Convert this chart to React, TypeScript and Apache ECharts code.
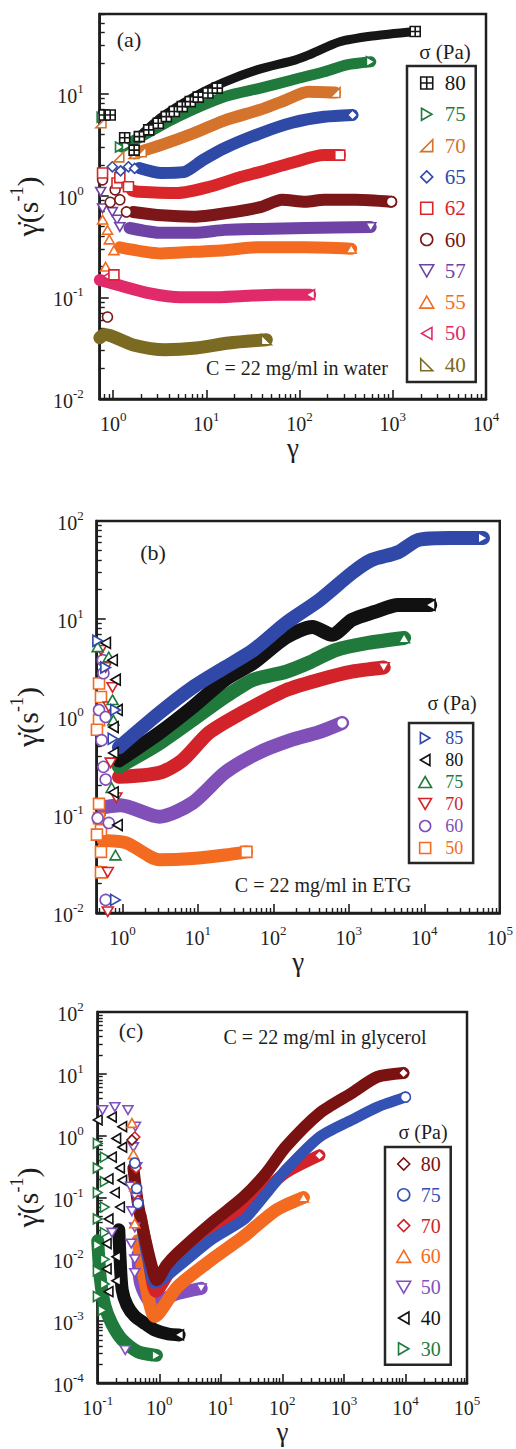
import React, { useEffect, useRef } from 'react';
import * as echarts from 'echarts';

type P = [number, number];
const FONT = "'Liberation Serif', 'Times New Roman', serif";
const INK = '#1e1e1e';

// ---------- Panel (a): C = 22 mg/ml in water ----------
const A_NAMES = ['80', '75', '70', '65', '62', '60', '57', '55', '50', '40'];
const A_COLORS = ['#161616', '#1f7a3c', '#d4732c', '#2f49a6', '#d9262b', '#7b1718', '#6f43a6', '#f26b21', '#e12a6a', '#7a6a22'];
const A80: P[] = [[1.9, 3.8], [3.3, 5.9], [7.3, 9.3], [15.8, 13.1], [35, 17.2], [91, 21.6], [124, 24], [270, 32.5], [600, 37], [1740, 41]];
const A80_PTS: P[] = [[0.8, 6.2], [0.93, 6.2], [1.33, 3.7], [1.68, 2.8], [1.91, 3.8], [2.41, 4.43], [3.05, 5.15], [3.72, 5.98], [4.53, 6.7], [5.52, 7.5], [6.72, 8.4], [8.18, 9.3], [10.4, 10.2], [13.1, 11.4]];
const A75: P[] = [[1.24, 3.0], [1.89, 3.7], [4.9, 5.95], [15.8, 9.4], [38, 11.4], [83, 13.7], [184, 16.5], [320, 19.3], [580, 20.7]];
const A75_PTS: P[] = [[0.75, 5.9], [1.18, 3.0], [1.4, 3.1]];
const A70: P[] = [[1.7, 2.6], [3.3, 3.15], [7.3, 4.1], [15.8, 5.5], [38, 7.0], [71, 8.7], [124, 10.5], [240, 10.3]];
const A70_PTS: P[] = [[0.74, 5.2], [1.15, 2.4], [1.68, 2.6], [2.0, 2.7]];
const A65: P[] = [[1.9, 1.87], [3.3, 1.67], [5.7, 1.7], [9.2, 2.24], [15.8, 2.94], [38, 4.1], [83, 5.2], [184, 5.95], [370, 6.2]];
const A65_PTS: P[] = [[0.98, 1.92], [1.2, 1.75], [1.46, 1.92], [1.7, 1.85]];
const A62: P[] = [[1.6, 1.12], [1.89, 1.09], [4.9, 1.06], [10.8, 1.22], [23.7, 1.53], [38, 1.71], [83, 2.1], [184, 2.5], [270, 2.5]];
const A62_PTS: P[] = [[0.77, 1.67], [1.1, 1.33], [1.18, 1.5], [1.46, 1.22], [1.02, 0.166]];
const A60: P[] = [[1.64, 0.69], [3.3, 0.64], [7.3, 0.62], [15.8, 0.67], [38, 0.77], [65, 0.91], [115, 0.87], [184, 0.91], [400, 0.91], [965, 0.87]];
const A60_PTS: P[] = [[0.77, 1.43], [0.93, 0.86], [1.05, 1.14], [1.18, 0.91], [1.39, 0.69], [0.87, 0.064]];
const A57: P[] = [[1.5, 0.48], [3.3, 0.43], [7.3, 0.43], [15.8, 0.46], [38, 0.47], [115, 0.48], [580, 0.49]];
const A57_PTS: P[] = [[0.735, 1.09], [0.77, 0.75], [0.98, 0.69], [1.1, 0.58], [1.18, 0.49]];
const A55: P[] = [[1.18, 0.31], [3.3, 0.27], [7.3, 0.28], [15.8, 0.29], [35, 0.31], [115, 0.31], [358, 0.30]];
const A55_PTS: P[] = [[0.77, 0.58], [0.87, 0.46], [0.91, 0.37], [1.02, 0.29], [0.83, 0.2]];
const A50: P[] = [[0.72, 0.148], [1.1, 0.133], [2.4, 0.11], [5.3, 0.1], [11.6, 0.1], [25, 0.103], [56, 0.106], [130, 0.106]];
const A50_PTS: P[] = [[0.87, 0.16]];
const A40: P[] = [[0.72, 0.04], [0.81, 0.043], [1.64, 0.034], [3.6, 0.0305], [7.8, 0.0317], [17.4, 0.0355], [44, 0.0382]];
const A40_PTS: P[] = [];

// ---------- Panel (b): C = 22 mg/ml in ETG ----------
const B_NAMES = ['85', '80', '75', '70', '60', '50'];
const B_COLORS = ['#3048a8', '#111111', '#1f7a3c', '#d2232a', '#8050b8', '#f26b21'];
const B85: P[] = [[0.9, 0.49], [3.1, 1.1], [8.5, 2.0], [22.8, 3.2], [54, 4.8], [147, 9.1], [408, 15.6], [1100, 29.5], [2000, 40], [4500, 48], [8300, 64], [22000, 67], [60000, 67]];
const B85_PTS: P[] = [[0.47, 6.0], [0.6, 3.2], [0.81, 1.18], [0.75, 0.6], [0.81, 0.0136]];
const B80: P[] = [[0.9, 0.36], [3.1, 0.69], [8.5, 1.26], [22.8, 2.4], [54, 3.55], [147, 6.5], [330, 8.3], [600, 6.9], [1100, 9.8], [2200, 11.8], [4500, 13.9], [12000, 13.9]];
const B80_PTS: P[] = [[0.6, 5.7], [0.74, 3.8], [0.81, 2.4], [0.86, 1.18], [0.76, 0.79], [0.76, 0.43], [0.76, 0.17], [0.86, 0.079]];
const B75: P[] = [[0.9, 0.31], [3.1, 0.54], [8.5, 0.93], [22.8, 1.6], [54, 2.4], [147, 2.9], [300, 3.6], [660, 4.8], [1800, 5.7], [5400, 6.4]];
const B75_PTS: P[] = [[0.47, 5.2], [0.66, 4.1], [0.74, 1.5], [0.76, 0.93], [0.72, 0.19], [0.81, 0.039]];
const B70: P[] = [[0.9, 0.245], [3.1, 0.27], [6.2, 0.36], [14, 0.69], [38, 1.1], [147, 1.88], [408, 2.4], [1100, 2.9], [2900, 3.2]];
const B70_PTS: P[] = [[0.52, 4.8], [0.6, 3.2], [0.74, 2.0], [0.66, 1.27], [0.7, 0.34], [0.83, 0.15], [0.64, 0.026], [0.64, 0.0103]];
const B60: P[] = [[0.56, 0.12], [0.94, 0.126], [3.1, 0.096], [8.5, 0.133], [22.8, 0.27], [63, 0.43], [170, 0.58], [400, 0.7], [815, 0.87]];
const B60_PTS: P[] = [[0.55, 3.8], [0.56, 2.8], [0.49, 1.18], [0.6, 1.0], [0.53, 0.58], [0.56, 0.31], [0.6, 0.23], [0.47, 0.093], [0.66, 0.083], [0.6, 0.0136]];
const B50: P[] = [[0.56, 0.055], [1.13, 0.052], [3.1, 0.035], [8.5, 0.036], [22.8, 0.039], [44, 0.042]];
const B50_PTS: P[] = [[0.49, 2.2], [0.52, 1.6], [0.49, 0.93], [0.46, 0.74], [0.49, 0.13], [0.49, 0.093], [0.52, 0.07], [0.46, 0.063], [0.52, 0.042], [0.52, 0.026]];

// ---------- Panel (c): C = 22 mg/ml in glycerol ----------
const C_NAMES = ['80', '75', '70', '60', '50', '40', '30'];
const C_COLORS = ['#7a1212', '#3352b4', '#d2232a', '#f26b21', '#8050c0', '#111111', '#1f7a3c'];
const C80: P[] = [[0.38, 0.3], [0.45, 0.08], [0.6, 0.02], [0.75, 0.008], [0.91, 0.0046], [1.3, 0.008], [1.98, 0.0126], [6.9, 0.038], [23, 0.1], [55, 0.25], [112, 0.65], [400, 2.3], [1350, 4.9], [3500, 8.9], [9300, 10.3]];
const C80_PTS: P[] = [[0.36, 0.85]];
const C75: P[] = [[0.5, 0.04], [0.65, 0.01], [0.85, 0.0041], [1.98, 0.0075], [6.9, 0.0205], [23, 0.043], [34, 0.065], [60, 0.13], [114, 0.28], [400, 0.95], [1350, 1.8], [3500, 2.9], [10000, 4.2]];
const C75_PTS: P[] = [[0.4, 0.36], [0.43, 0.14], [0.45, 0.08]];
const C70: P[] = [[0.5, 0.05], [0.65, 0.012], [0.88, 0.003], [1.98, 0.0097], [6.9, 0.026], [23, 0.07], [34, 0.091], [112, 0.25], [400, 0.48]];
const C70_PTS: P[] = [[0.4, 0.95], [0.42, 0.3], [0.45, 0.09]];
const C60: P[] = [[0.45, 0.02], [0.6, 0.004], [0.85, 0.0012], [1.98, 0.0036], [6.9, 0.0097], [23, 0.023], [78, 0.062], [220, 0.1]];
const C60_PTS: P[] = [[0.36, 1.6], [0.38, 0.5], [0.4, 0.15], [0.4, 0.038]];
const C50: P[] = [[0.45, 0.012], [0.5, 0.004], [0.76, 0.002], [1.98, 0.0028], [4.8, 0.0034]];
const C50_PTS: P[] = [[0.12, 2.6], [0.19, 2.9], [0.31, 2.6], [0.41, 1.4], [0.38, 0.65], [0.43, 0.31], [0.34, 0.15], [0.42, 0.1], [0.36, 0.06], [0.4, 0.033], [0.35, 0.018], [0.4, 0.01], [0.4, 0.006], [0.17, 0.027], [0.28, 0.00034]];
const C40: P[] = [[0.22, 0.03], [0.23, 0.011], [0.25, 0.0032], [0.3, 0.0018], [0.4, 0.0012], [0.6, 0.0009], [0.85, 0.00072], [1.4, 0.00062], [2.1, 0.0006]];
const C40_PTS: P[] = [[0.1, 1.8], [0.17, 2.0], [0.25, 1.4], [0.2, 0.9], [0.25, 0.65], [0.17, 0.45], [0.23, 0.3], [0.15, 0.2], [0.25, 0.19], [0.19, 0.12], [0.23, 0.07], [0.15, 0.045], [0.14, 0.018], [0.2, 0.011], [0.14, 0.007], [0.2, 0.0045], [0.15, 0.003]];
const C30: P[] = [[0.1, 0.02], [0.11, 0.005], [0.13, 0.0018], [0.17, 0.0009], [0.25, 0.0005], [0.45, 0.00032], [0.9, 0.00028]];
const C30_PTS: P[] = [[0.1, 0.75], [0.13, 0.45], [0.1, 0.3], [0.13, 0.18], [0.1, 0.12], [0.13, 0.07], [0.1, 0.045], [0.13, 0.027], [0.1, 0.017], [0.13, 0.01], [0.1, 0.0065], [0.13, 0.004], [0.1, 0.0025], [0.12, 0.0015]];

// ---------- Axes ----------
const X_RANGES: P[] = [[0.718, 1e4], [0.457, 1e5], [0.1, 1e5]];
const Y_RANGES: P[] = [[0.01, 61], [0.01, 100], [1e-4, 100]];
const MINOR_MULT = [2, 3, 4, 5, 6, 7, 8, 9];

const SYM = {
  up: 'path://M5,0L10,8.66L0,8.66Z',
  down: 'path://M0,0L10,0L5,8.66Z',
  right: 'path://M0,0L8.66,5L0,10Z',
  left: 'path://M8.66,0L8.66,10L0,5Z',
  sqx: 'path://M0,0L10,0L10,10L0,10Z M5,0L5,10 M0,5L10,5',
  cornerBR: 'path://M10,0L10,10L0,10Z',
  cornerBL: 'path://M0,0L10,10L0,10Z',
  circle: 'circle',
  rect: 'path://M0,0L10,0L10,10L0,10Z',
  diamond: 'path://M5,0L10,5L5,10L0,5Z',
};

const PANELS = [
  {
    key: 'a', names: A_NAMES, colors: A_COLORS,
    symbols: [SYM.sqx, SYM.right, SYM.cornerBR, SYM.diamond, SYM.rect, SYM.circle, SYM.down, SYM.up, SYM.left, SYM.cornerBL],
    bands: [A80, A75, A70, A65, A62, A60, A57, A55, A50, A40],
    pts: [A80_PTS, A75_PTS, A70_PTS, A65_PTS, A62_PTS, A60_PTS, A57_PTS, A55_PTS, A50_PTS, A40_PTS],
    widths: [9, 11, 12, 12, 12, 12, 12, 12, 12, 13], symSize: 10,
  },
  {
    key: 'b', names: B_NAMES, colors: B_COLORS,
    symbols: [SYM.right, SYM.left, SYM.up, SYM.down, SYM.circle, SYM.rect],
    bands: [B85, B80, B75, B70, B60, B50],
    pts: [B85_PTS, B80_PTS, B75_PTS, B70_PTS, B60_PTS, B50_PTS],
    widths: [14, 14, 14, 14, 14, 13], symSize: 11,
  },
  {
    key: 'c', names: C_NAMES, colors: C_COLORS,
    symbols: [SYM.diamond, SYM.circle, SYM.diamond, SYM.up, SYM.down, SYM.left, SYM.right],
    bands: [C80, C75, C70, C60, C50, C40, C30],
    pts: [C80_PTS, C75_PTS, C70_PTS, C60_PTS, C50_PTS, C40_PTS, C30_PTS],
    widths: [12, 11, 12, 13, 13, 13, 13], symSize: 10,
  },
];

const GRIDS = [
  { left: 82, top: 14, width: 404, height: 385 },
  { left: 91, top: 521, width: 409, height: 392 },
  { left: 92, top: 1012, width: 375, height: 371 },
];
const X_NAME_GAP = [31, 30, 34];
const Y_NAME_GAP = [42, 48, 49];
const Y_LABEL_MARGIN = [16, 13, 14];
const LEGENDS = [
  { left: 407, top: 66, padding: [6.5, 10, 6.8, 12], itemWidth: 26, itemHeight: 12, itemGap: 10.3, fontSize: 21 },
  { left: 409, top: 723, padding: [6, 10, 6, 9], itemWidth: 30, itemHeight: 11, itemGap: 4, fontSize: 18 },
  { left: 385, top: 1147, padding: [7, 10, 6, 11], itemWidth: 24, itemHeight: 12, itemGap: 10.8, fontSize: 20 },
];
const TEXTS = [
  { text: '(a)', x: 129, y: 39, size: 22 },
  { text: 'C = 22 mg/ml in water', x: 297, y: 368, size: 20 },
  { text: 'σ (Pa)', x: 445, y: 52, size: 21 },
  { text: '(b)', x: 153, y: 552, size: 22 },
  { text: 'C = 22 mg/ml in ETG', x: 323, y: 885, size: 20 },
  { text: 'σ (Pa)', x: 452, y: 703, size: 20 },
  { text: '(c)', x: 131, y: 1030, size: 22 },
  { text: 'C = 22 mg/ml in glycerol', x: 325, y: 1037, size: 20 },
  { text: 'σ (Pa)', x: 423, y: 1132, size: 20 },
];

function minorValues(r: P): number[] {
  const out: number[] = [];
  for (let e = Math.floor(Math.log10(r[0])); e <= Math.ceil(Math.log10(r[1])); e++) {
    for (const m of MINOR_MULT) {
      const v = m * Math.pow(10, e);
      if (v > r[0] && v < r[1]) out.push(v);
    }
  }
  return out;
}

const powLabel = (v: number) => {
  const e = Math.log10(v);
  const r = Math.round(e);
  if (Math.abs(e - r) > 1e-6) return '';
  return `{m|10}{s|${r}}`;
};
const labelRich = {
  m: { fontSize: 20, fontFamily: FONT, color: INK, lineHeight: 24, verticalAlign: 'bottom' },
  s: { fontSize: 13, fontFamily: FONT, color: INK, lineHeight: 14, verticalAlign: 'top' },
};

function buildOption() {
  const series: any[] = [];
  const legends: any[] = [];
  PANELS.forEach((p, gi) => {
    for (let i = p.names.length - 1; i >= 0; i--) {
      series.push({
        type: 'line', name: `${p.key}${p.names[i]}_band`, xAxisIndex: gi, yAxisIndex: gi,
        data: p.bands[i], showSymbol: false, symbol: 'none', smooth: 0.25, silent: true, z: 2,
        lineStyle: { color: p.colors[i], width: p.widths[i], cap: 'round', join: 'round' },
      });
    }
    for (let i = p.names.length - 1; i >= 0; i--) {
      const band = p.bands[i];
      series.push({
        type: 'scatter', name: `${p.key}${p.names[i]}`, xAxisIndex: gi, yAxisIndex: gi,
        data: [...p.pts[i], band[band.length - 1]], symbol: p.symbols[i], symbolSize: p.symSize,
        symbolKeepAspect: true, silent: true, z: 3,
        itemStyle: { color: '#ffffff', borderColor: p.colors[i], borderWidth: 1.6, opacity: 1 },
      });
    }
    const L = LEGENDS[gi];
    legends.push({
      orient: 'vertical', left: L.left, top: L.top, padding: L.padding,
      itemWidth: L.itemWidth, itemHeight: L.itemHeight, itemGap: L.itemGap,
      borderColor: '#262626', borderWidth: 2.5, backgroundColor: '#ffffff', selectedMode: false,
      itemStyle: { borderWidth: 1.6 },
      formatter: (n: string) => n.slice(1),
      textStyle: { fontFamily: FONT, fontSize: L.fontSize, lineHeight: L.fontSize, padding: [0, 0, 0, 0] },
      data: p.names.map((n, i) => ({ name: `${p.key}${n}`, textStyle: { color: p.colors[i], fontFamily: FONT, fontSize: L.fontSize } })),
    });
  });

  const majorAxis = {
    type: 'log', logBase: 10,
    axisLine: { show: true, lineStyle: { color: INK, width: 2.5 } },
    axisTick: { show: true, inside: true, length: 9, lineStyle: { color: INK, width: 1.6 } },
    splitLine: { show: false },
    minorTick: { show: false },
  };
  // second axis per grid, carrying only the 2..9 minor ticks of each decade
  const minorAxis = (gi: number, r: P, position: string) => ({
    type: 'log', logBase: 10, gridIndex: gi, min: r[0], max: r[1], position,
    axisLine: { show: false },
    axisTick: { show: true, inside: true, length: 5, customValues: minorValues(r), lineStyle: { color: INK, width: 1.4 } },
    axisLabel: { show: false },
    splitLine: { show: false },
    minorTick: { show: false },
    silent: true,
  });

  return {
    animation: false,
    backgroundColor: '#ffffff',
    grid: GRIDS.map((g) => ({ ...g, show: true, borderColor: INK, borderWidth: 2.5, backgroundColor: 'transparent', containLabel: false })),
    xAxis: [
      ...GRIDS.map((_, gi) => ({
        ...majorAxis, gridIndex: gi, position: 'bottom', min: X_RANGES[gi][0], max: X_RANGES[gi][1],
        axisLabel: { formatter: powLabel, rich: labelRich, margin: 11, color: INK, fontFamily: FONT },
        name: 'γ', nameLocation: 'middle', nameGap: X_NAME_GAP[gi],
        nameTextStyle: { fontFamily: FONT, fontSize: 27, color: INK },
      })),
      ...GRIDS.map((_, gi) => minorAxis(gi, X_RANGES[gi], 'bottom')),
    ],
    yAxis: [
      ...GRIDS.map((_, gi) => ({
        ...majorAxis, gridIndex: gi, position: 'left', min: Y_RANGES[gi][0], max: Y_RANGES[gi][1],
        axisLabel: { formatter: powLabel, rich: labelRich, margin: Y_LABEL_MARGIN[gi], color: INK, fontFamily: FONT },
        name: '{g|γ̇(s}{s|-1}{g|)}', nameLocation: 'middle', nameGap: Y_NAME_GAP[gi],
        nameTextStyle: {
          fontFamily: FONT, color: INK,
          rich: {
            g: { fontSize: 30, fontFamily: FONT, color: INK, lineHeight: 34, verticalAlign: 'bottom' },
            s: { fontSize: 18, fontFamily: FONT, color: INK, lineHeight: 19, verticalAlign: 'top' },
          },
        },
      })),
      ...GRIDS.map((_, gi) => minorAxis(gi, Y_RANGES[gi], 'left')),
    ],
    legend: legends,
    graphic: TEXTS.map((t) => ({
      type: 'text', x: t.x, y: t.y, silent: true, z: 10,
      style: { text: t.text, fontSize: t.size, fontFamily: FONT, fill: INK, align: 'center', verticalAlign: 'middle' },
    })),
    series,
  };
}

export default function App() {
  const ref = useRef<HTMLDivElement>(null);
  useEffect(() => {
    if (!ref.current) return;
    const chart = echarts.init(ref.current, undefined, { renderer: 'svg' });
    chart.setOption(buildOption() as any);
    return () => chart.dispose();
  }, []);
  return <div ref={ref} style={{ position: 'absolute', left: 0, top: 0, width: 516, height: 1449, background: '#fff' }} />;
}
